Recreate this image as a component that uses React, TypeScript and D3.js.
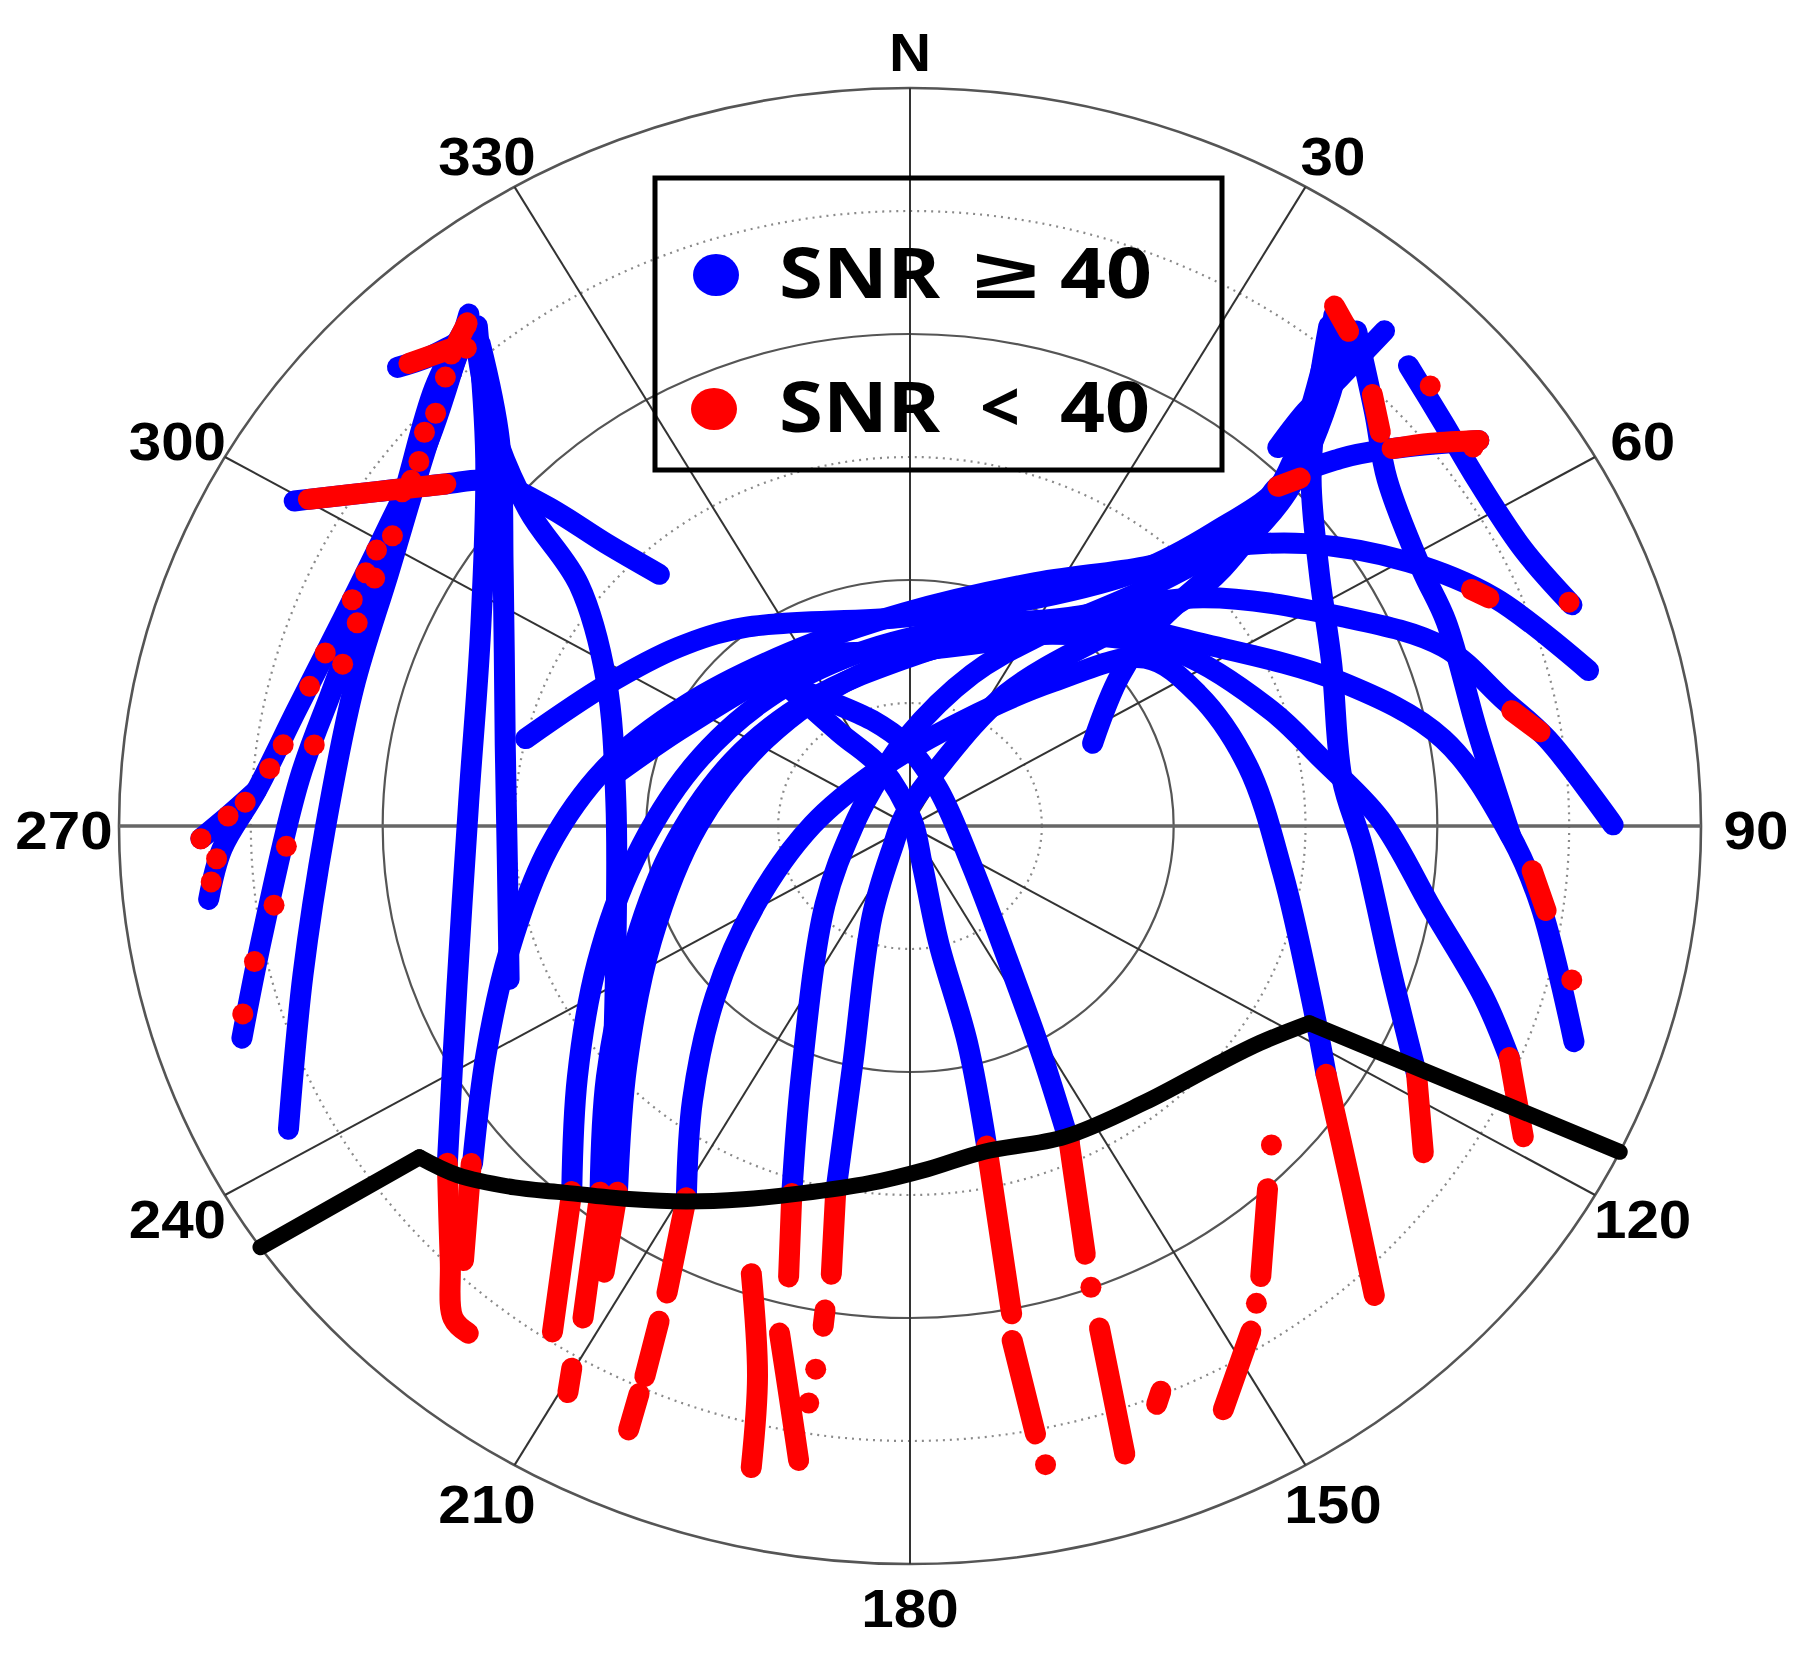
import React from 'react';
import * as d3 from 'd3';

type P = [number, number]; // [azimuth deg, elevation deg]

const W = 1797;
const H = 1653;
const CX = 910;
const CY = 826;
const RX = 791;
const RY = 738;

const solidRings = [0, 30, 60];
const dottedRings = [15, 45, 75];
const spokeAz = [0, 30, 60, 90, 120, 150, 180, 210, 240, 270, 300, 330];
const spokeLabels = ['N', '30', '60', '90', '120', '150', '180', '210', '240', '270', '300', '330'];

const maskLeft: P[] = [[235.2, 0], [234.1, 21.1]];
const maskMiddle: P[] = [
  [234.1, 21.1], [230.4, 23.2], [225.6, 27.0], [221.7, 30.2], [215.1, 34.4],
  [209.1, 37.6], [202.6, 40.7], [195.5, 43.5], [186.0, 46.2], [177.3, 48.1], [168.0, 49.4],
  [155.1, 48.2], [141.6, 47.0], [130.2, 44.7], [123.6, 42.2], [117.9, 38.6],
];
const maskRight: P[] = [[117.9, 38.6], [116.2, 0]];

// ---- tracks with SNR >= 40 (blue)
const trackA1: P[] = [[321.2, 9.9], [310.7, 17.8], [301.6, 20.3], [291.4, 20.7], [281.5, 18.8], [273.3, 15.5], [268.0, 11.7], [263.6, 9.7]];
const trackA1s: P[] = [[268.9, 9.3], [270.9, 12.4], [273.3, 15.5]];
const trackA2: P[] = [[319.9, 11.1], [314.6, 14.0], [303.4, 20.3], [294.0, 22.2], [284.2, 22.2], [274.7, 20.3], [259.7, 15.1], [251.2, 9.7]];
const trackA3: P[] = [[320.5, 11.0], [315.3, 14.9], [309.0, 18.7], [297.6, 23.1], [285.0, 24.5], [269.9, 23.5], [255.3, 18.6], [242.4, 10.2]];
const trackA4: P[] = [[321.1, 11.6], [312.9, 24.1], [296.1, 35.6], [273.4, 39.7], [249.3, 34.9], [232.0, 23.2]];
const trackA5: P[] = [[320.3, 13.4], [315.2, 23.7], [303.8, 34.3], [282.1, 42.9], [264.9, 44.0], [247.7, 40.7]];
const trackA6: P[] = [[313.8, 9.2], [316.2, 10.8], [318.9, 11.7]];
const trackR1: P[] = [[299.5, 9.5], [300.2, 10.8], [303.9, 16.9], [308.3, 22.7], [311.3, 26.2], [313.3, 33.0], [314.9, 41.2], [317.1, 48.1]];
const trackT: P[] = [[320.6, 11.9], [315.9, 21.6], [311.6, 31.9], [308.0, 42.2], [297.1, 51.2], [275.1, 56.4], [241.6, 51.9], [217.5, 33.7]];
const trackS6: P[] = [[196.7, 43.2], [202.0, 56.9], [225.3, 76.4], [268.7, 83.5], [316.2, 83.8], [357.2, 79.4], [20.9, 70.2], [32.4, 62.5], [42.8, 50.7], [46.2, 40.3], [46.0, 30.4], [41.7, 20.4], [38.6, 12.0]];
const trackS7: P[] = [[190.7, 44.4], [192.6, 60.0], [201.3, 78.1], [217.8, 86.8], [332.8, 88.6], [24.5, 82.2], [34.2, 70.5], [43.8, 57.8], [48.6, 47.4], [47.0, 36.5], [44.2, 27.3], [38.9, 14.2]];
const trackS8: P[] = [[167.4, 50.0], [166.1, 62.8], [167.1, 75.4], [163.7, 84.9], [20.4, 89.3], [335.5, 82.2], [324.8, 76.0], [319.8, 64.5]];
const trackS9: P[] = [[154.8, 47.5], [151.7, 58.4], [147.6, 67.6], [124.8, 81.4], [36.0, 84.5], [357.0, 80.0], [341.5, 76.4], [326.7, 71.2], [319.1, 66.1]];
const trackC1: P[] = [[283.7, 45.0], [296.5, 51.4], [309.6, 55.8], [322.0, 59.3], [358.8, 64.5], [27.9, 58.5], [40.0, 49.4], [44.0, 40.2], [45.4, 29.8], [41.7, 20.4], [37.7, 11.1]];
const trackD3: P[] = [[209.3, 38.0], [216.5, 48.4], [226.8, 59.6], [241.3, 69.9], [270.7, 78.9], [335.5, 82.2], [24.7, 76.0], [42.8, 66.0], [52.6, 56.3], [63.8, 53.5], [79.1, 50.9], [97.7, 47.2], [114.6, 39.8], [122.6, 33.8]];
const trackD4: P[] = [[216.7, 34.3], [227.8, 46.5], [244.7, 57.5], [270.3, 65.9], [303.1, 70.5], [342.3, 70.7], [17.7, 66.3], [41.0, 59.2], [55.4, 52.8], [71.2, 46.5], [80.0, 42.5], [89.1, 36.5], [99.6, 29.8], [107.7, 21.5], [112.5, 16.2]];
const trackD5: P[] = [[218.3, 33.1], [228.4, 43.8], [242.5, 54.0], [263.0, 62.4], [291.2, 68.3], [324.5, 70.9], [358.2, 69.6], [22.5, 64.4], [41.0, 57.2], [56.2, 50.0], [70.2, 38.0], [80.1, 28.4], [91.1, 21.6], [97.7, 17.6], [109.2, 10.0]];
const trackD6: P[] = [[220.8, 31.1], [231.0, 41.3], [244.9, 50.7], [262.6, 58.4], [286.1, 64.2], [313.6, 67.5], [344.5, 68.1], [13.6, 65.1], [34.8, 59.1], [50.1, 46.6], [62.4, 34.8], [70.2, 25.5], [77.3, 20.6], [81.7, 16.7], [89.9, 10.0]];
const trackD7: P[] = [[230.4, 25.4], [240.0, 34.3], [251.5, 41.9], [266.3, 48.8], [281.7, 54.7], [300.3, 60.6], [327.0, 64.8], [358.6, 64.0], [24.9, 57.4], [40.2, 48.6], [46.7, 40.4], [52.6, 33.3], [60.4, 24.8], [67.3, 17.9], [76.2, 10.5]];
const trackC2: P[] = [[280.1, 55.6], [293.8, 61.2], [319.7, 65.8], [334.3, 66.9], [358.6, 68.7], [23.5, 65.4], [41.1, 57.3], [48.6, 47.4], [47.6, 37.9], [45.3, 31.1], [47.5, 23.7], [50.0, 18.4], [54.0, 10.0]];
const trackN1: P[] = [[38.0, 12.6], [41.7, 20.4], [47.2, 27.8], [56.4, 34.1], [67.6, 38.1], [83.3, 40.5], [92.9, 38.4], [108.2, 32.3], [117.7, 24.9]];
const trackN2: P[] = [[40.1, 11.1], [46.3, 16.9], [52.1, 21.2], [61.7, 23.9], [67.8, 24.1], [80.0, 24.4], [91.1, 21.6]];
const trackN4: P[] = [[41.8, 9.0], [41.8, 16.6], [41.7, 22.3], [42.2, 27.7]];
const trackN5: P[] = [[64.1, 66.9], [52.5, 59.9], [48.7, 52.7], [48.0, 41.7], [46.5, 30.8], [42.5, 19.5], [39.1, 11.4]];
const trackN7: P[] = [[45.3, 10.2], [51.0, 11.9], [56.9, 12.9], [64.2, 12.5], [70.3, 10.0]];

const blueTracks: P[][] = [
  trackA1, trackA1s, trackA2, trackA3, trackA4, trackA5, trackA6, trackR1, trackT,
  trackD7, trackD6, trackD5, trackD4, trackD3, trackS6, trackS7, trackS8, trackS9,
  trackC1, trackC2, trackN1, trackN2, trackN4, trackN5, trackN7,
];

// ---- SNR < 40 (red) runs
const redRuns: P[][] = [
  [[300.2, 10.8], [303.9, 16.9], [308.3, 22.7]],
  [[314.7, 9.8], [318.1, 11.8]],
  [[318.9, 11.7], [320.6, 10.6]],
  [[45.3, 31.1], [46.3, 28.6]],
  [[50.0, 18.4], [51.8, 14.5], [54.0, 10.0]],
  [[45.0, 15.6], [48.1, 18.1]],
  [[37.3, 10.3], [39.6, 11.7]],
  [[78.4, 20.1], [80.9, 17.4]],
  [[65.7, 19.9], [67.1, 18.5]],
  [[94.4, 19.0], [98.1, 16.9]],
  [[232.0, 23.2], [224.6, 15.5], [220.9, 10.6], [219.1, 10.3]],
  [[230.5, 25.3], [223.8, 16.6]],
  [[220.8, 31.1], [213.4, 16.1]],
  [[218.3, 33.1], [211.8, 19.4]],
  [[216.7, 34.3], [212.6, 25.4]],
  [[210.2, 13.5], [209.4, 10.7]],
  [[209.3, 38.0], [205.9, 26.7]],
  [[205.3, 23.2], [204.2, 16.4]],
  [[204.0, 14.2], [203.5, 9.7]],
  [[196.7, 43.2], [194.1, 33.3]],
  [[190.7, 44.4], [189.3, 34.6]],
  [[189.3, 30.2], [189.2, 28.2]],
  [[198.3, 32.5], [194.5, 20.7], [193.0, 9.7]],
  [[193.5, 26.4], [191.1, 18.8], [189.3, 11.6]],
  [[167.4, 50.0], [169.0, 29.4]],
  [[169.5, 26.2], [169.1, 14.5]],
  [[154.8, 47.5], [159.1, 34.1]],
  [[160.6, 25.1], [162.3, 9.6]],
  [[122.6, 33.8], [131.2, 23.3], [137.3, 12.1]],
  [[117.7, 24.9], [124.3, 19.3]],
  [[112.5, 16.2], [118.5, 10.6]],
  [[137.4, 29.9], [144.0, 22.1]],
  [[147.8, 17.2], [153.4, 10.4]],
  [[157.5, 15.4], [158.3, 14.1]],
];

const redDots: P[] = [
  [320.4, 10.8], [316.0, 13.9], [313.0, 16.2], [308.5, 18.6], [305.2, 19.3], [299.0, 20.6], [296.5, 20.8], [293.5, 20.8],
  [287.6, 20.2], [284.0, 19.6], [277.9, 18.0], [275.5, 16.8], [272.2, 14.3], [267.1, 11.0], [265.1, 10.2],
  [317.8, 12.3], [311.0, 16.8], [306.6, 19.3], [301.0, 21.3], [296.4, 22.0], [291.5, 22.4], [287.0, 22.5], [278.3, 21.5],
  [268.0, 19.0], [262.4, 17.0], [257.5, 13.6], [253.2, 10.7],
  [268.9, 9.3], [270.9, 12.4], [319.1, 12.9],
  [47.8, 10.1], [54.2, 11.0], [70.0, 10.2], [104.0, 12.4],
  [189.2, 22.9], [189.3, 18.7], [168.8, 10.6], [159.9, 30.1], [133.4, 33.4], [145.9, 19.7],
];

const deg = Math.PI / 180;
const rX = d3.scaleLinear().domain([90, 0]).range([0, RX]);
const rY = d3.scaleLinear().domain([90, 0]).range([0, RY]);
const px = (p: P) => CX + rX(p[1]) * Math.sin(p[0] * deg);
const py = (p: P) => CY - rY(p[1]) * Math.cos(p[0] * deg);
const smooth = d3.line<P>().x(px).y(py).curve(d3.curveCatmullRom.alpha(0.5));
const straight = d3.line<P>().x(px).y(py);

const BLUE = '#0000ff';
const RED = '#ff0000';
const LW = 21;

export default function App() {
  return (
    <svg width={W} height={H} viewBox={`0 0 ${W} ${H}`} style={{ position: 'absolute', left: 0, top: 0, background: '#fff' }}>
      <rect x={0} y={0} width={W} height={H} fill="#fff" />
      {dottedRings.map((e) => (
        <ellipse key={'d' + e} cx={CX} cy={CY} rx={rX(e)} ry={rY(e)} fill="none" stroke="#8a8a8a" strokeWidth={2.2} strokeDasharray="2 5" />
      ))}
      {solidRings.map((e) => (
        <ellipse key={'s' + e} cx={CX} cy={CY} rx={rX(e)} ry={rY(e)} fill="none" stroke="#555" strokeWidth={e === 0 ? 2.6 : 2.2} />
      ))}
      {spokeAz.map((a) => (
        <line key={'k' + a} x1={CX} y1={CY} x2={px([a, 0])} y2={py([a, 0])}
          stroke={a === 90 || a === 270 ? '#666' : '#333'} strokeWidth={a === 90 || a === 270 ? 3.5 : 2} />
      ))}
      <g fill="none" strokeLinecap="round" strokeLinejoin="round" strokeWidth={LW}>
        {blueTracks.map((t, i) => (
          <path key={'b' + i} d={smooth(t) || ''} stroke={BLUE} />
        ))}
        {redRuns.map((t, i) => (
          <path key={'r' + i} d={(t.length > 2 ? smooth(t) : straight(t)) || ''} stroke={RED} />
        ))}
      </g>
      {redDots.map((p, i) => (
        <ellipse key={'rd' + i} cx={px(p)} cy={py(p)} rx={LW / 2} ry={LW / 2} fill={RED} />
      ))}
      <g fill="none" stroke="#000" strokeWidth={16} strokeLinejoin="round" strokeLinecap="round">
        <path d={straight(maskLeft) || ''} />
        <path d={smooth(maskMiddle) || ''} />
        <path d={straight(maskRight) || ''} />
      </g>
      {spokeAz.map((a, i) => {
        const lx = CX + Math.sin(a * deg) * (RX + 55);
        const ly = CY - Math.cos(a * deg) * (RY + 40) + 4;
        return (
          <text key={'l' + a} transform={`translate(${lx},${ly}) scale(1.08,1)`} textAnchor="middle" dominantBaseline="central"
            fontFamily="Liberation Sans, Arial, sans-serif" fontWeight="bold" fontSize={54} fill="#000">
            {spokeLabels[i]}
          </text>
        );
      })}
      <rect x={655} y={178} width={567} height={292} fill="none" stroke="#000" strokeWidth={5} />
      <ellipse cx={716} cy={275} rx={23} ry={21} fill={BLUE} />
      <ellipse cx={714} cy={409} rx={23} ry={21} fill={RED} />
      <g fontFamily="Noto Sans, Liberation Sans, sans-serif" fontSize={70} fontWeight="bold" fill="#000">
        <text x={779} y={298} textLength={161} lengthAdjust="spacingAndGlyphs">SNR</text>
        <text x={974} y={298} textLength={63} lengthAdjust="spacingAndGlyphs">≥</text>
        <text x={1060} y={298} textLength={92} lengthAdjust="spacingAndGlyphs">40</text>
        <text x={779} y={432} textLength={161} lengthAdjust="spacingAndGlyphs">SNR</text>
        <text x={980} y={432} textLength={40} lengthAdjust="spacingAndGlyphs">&lt;</text>
        <text x={1060} y={432} textLength={90} lengthAdjust="spacingAndGlyphs">40</text>
      </g>
    </svg>
  );
}
